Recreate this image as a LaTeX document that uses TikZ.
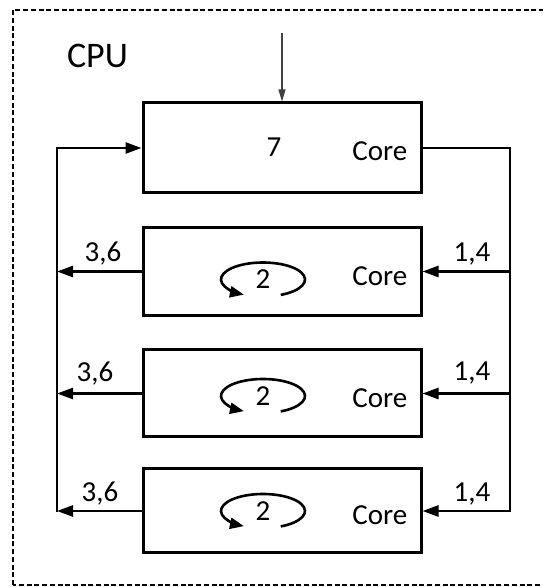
\documentclass[tikz,border=0pt]{standalone}
\usepackage{fontspec}
\setmainfont{Carlito}
\usetikzlibrary{arrows.meta}
\begin{document}
\begin{tikzpicture}[x=1pt,y=1pt,line join=miter,
  corebox/.style={draw,line width=3pt,minimum width=278pt,minimum height=88pt,inner sep=0pt},
  bus/.style={line width=2.6pt,line cap=rect},
  tip/.style={-{Triangle[length=16pt,width=11pt]}},
  lbl/.style={font=\fontsize{29}{31}\selectfont,inner sep=0pt},
  spin/.style={line width=2.6pt,-{Triangle[length=14pt,width=11pt]}}]
  \useasboundingbox (0,0) rectangle (543,587);
  \draw[line width=1.8pt,dash pattern=on 5pt off 2.7pt] (13,2) rectangle (560,577);
  \node[font=\fontsize{36}{40}\selectfont,inner sep=0pt,anchor=base] (cpu) at (97.5,519) {CPU};
  \node[corebox,minimum height=90pt] (core0) at (282,439) {};
  \node[corebox] (core1) at (282,315.5) {};
  \node[corebox,minimum height=87pt] (core2) at (282,193.5) {};
  \node[corebox,minimum height=84pt] (core3) at (282,76) {};
  \node[lbl,anchor=base east] (name0) at ([xshift=-15pt,yshift=-13pt]core0.east) {Core};
  \node[lbl,anchor=base east] (name1) at ([xshift=-15pt,yshift=-14pt]core1.east) {Core};
  \node[lbl,anchor=base east] (name2) at ([xshift=-15pt,yshift=-14pt]core2.east) {Core};
  \node[lbl,anchor=base east] (name3) at ([xshift=-15pt,yshift=-14pt]core3.east) {Core};
  \node[lbl,anchor=base] (count0) at (274,430) {7};
  \node[lbl] (count1) at (263,307.5) {2};
  \node[lbl] (count2) at (263,191) {2};
  \node[lbl] (count3) at (263,76) {2};
  \draw[spin] ([shift={(-65:42 and 17)}]count1.center) arc[start angle=-65,end angle=243,x radius=42,y radius=17];
  \draw[spin] ([shift={(-65:42 and 17)}]count2.center) arc[start angle=-65,end angle=243,x radius=42,y radius=17];
  \draw[spin] ([shift={(-65:42 and 17)}]count3.center) arc[start angle=-65,end angle=243,x radius=42,y radius=17];
  % feed into the top core
  \coordinate (feed) at (282,554);
  \draw[line width=1.1pt,draw=black!75,-{Triangle[length=12pt,width=7pt]}] (feed) -- (core0.north);
  % right bus
  \coordinate (rbus1) at (510,315.5);
  \coordinate (rbus2) at (510,193.5);
  \coordinate (rbus3) at (510,76);
  \draw[bus,tip] (core0.east) -| (rbus3) -- (core3.east);
  \draw[bus,tip] (rbus1) -- (core1.east);
  \draw[bus,tip] (rbus2) -- (core2.east);
  % left bus
  \coordinate (lbus1) at (57,315.5);
  \coordinate (lbus2) at (57,193.5);
  \coordinate (lbus3) at (57,76);
  \draw[bus,tip] (core1.west) -- (lbus1);
  \draw[bus,tip] (core2.west) -- (lbus2);
  \draw[bus,tip] (core3.west) -- (lbus3);
  \draw[bus,tip] (lbus3) |- (core0.west);
  \node[lbl,anchor=base] (out1) at (103,325.5) {3,6};
  \node[lbl,anchor=base] (out2) at (95,205) {3,6};
  \node[lbl,anchor=base] (out3) at (100,85) {3,6};
  \node[lbl,anchor=base] (in1) at (472,325.5) {1,4};
  \node[lbl,anchor=base] (in2) at (472,206) {1,4};
  \node[lbl,anchor=base] (in3) at (472,85) {1,4};
\end{tikzpicture}
\end{document}
